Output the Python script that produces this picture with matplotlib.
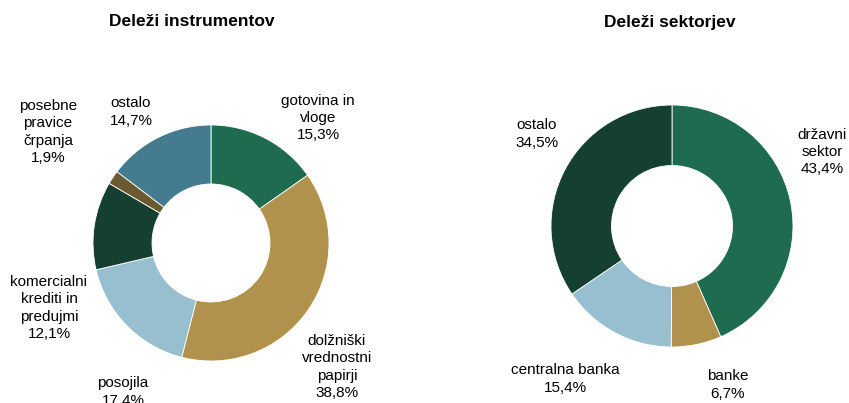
import matplotlib as mpl
mpl.use('Agg')
import matplotlib.pyplot as plt

# Deleži instrumentov
instr_labels = ["gotovina in\nvloge", "dolžniški\nvrednostni\npapirji", "posojila",
                "komercialni\nkrediti in\npredujmi", "posebne\npravice\nčrpanja", "ostalo"]
instr_values = [15.3, 38.8, 17.4, 12.1, 1.9, 14.7]

# Deleži sektorjev
sect_labels = ["državni\nsektor", "banke", "centralna banka", "ostalo"]
sect_values = [43.4, 6.7, 15.4, 34.5]

GREEN = '#1f6b50'
GOLD = '#b0924d'
LBLUE = '#98bfcf'
DGREEN = '#153f30'
BROWN = '#6b5a30'
TEAL = '#457b8e'
instr_colors = [GREEN, GOLD, LBLUE, DGREEN, BROWN, TEAL]
sect_colors = [GREEN, GOLD, LBLUE, DGREEN]

fam = 'Liberation Sans'

W, H = 849, 403
fig = plt.figure(figsize=(W/100, H/100), dpi=100)
ax = fig.add_axes([0, 0, 1, 1])
ax.axis('off')

def pct(v):
    return ('%.1f%%' % v).replace('.', ',')

def donut(values, colors, cx, cy, r):
    ax.pie(values, colors=colors, startangle=90, counterclock=False,
           center=(cx, H - cy), radius=r, normalize=True,
           wedgeprops=dict(width=r/2, edgecolor='white', linewidth=0.6))

donut(instr_values, instr_colors, 211, 243, 118)
donut(sect_values, sect_colors, 672, 226, 121)
ax.set_xlim(0, W)
ax.set_ylim(0, H)
ax.set_aspect('equal')

# label positions (pixel coordinates, from top)
instr_pos = [(318, 118), (337, 367), (123, 392), (49, 308), (48, 132), (131, 112)]
sect_pos = [(822, 152), (728, 385), (565, 379), (537, 134)]

for lab, v, (x, y) in zip(instr_labels, instr_values, instr_pos):
    ax.text(x, H - y, lab + '\n' + pct(v), ha='center', va='center',
            family=fam, fontsize=11, linespacing=1.3)
for lab, v, (x, y) in zip(sect_labels, sect_values, sect_pos):
    ax.text(x, H - y, lab + '\n' + pct(v), ha='center', va='center',
            family=fam, fontsize=11, linespacing=1.3)

ax.text(192, H - 22, 'Deleži instrumentov', ha='center', va='center',
        family=fam, fontsize=12.5, fontweight='bold')
ax.text(670, H - 22, 'Deleži sektorjev', ha='center', va='center',
        family=fam, fontsize=12.5, fontweight='bold')

fig.savefig('out.png', dpi=100)
